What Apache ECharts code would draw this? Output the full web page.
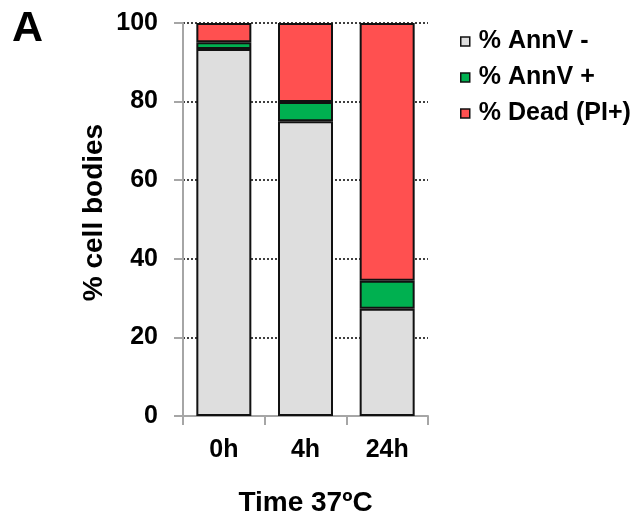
<!DOCTYPE html>
<html>
<head>
<meta charset="utf-8">
<script src="https://cdn.jsdelivr.net/npm/echarts@6/dist/echarts.min.js"></script>
<style>
html,body{margin:0;padding:0;background:#fff;}
#chart{width:636px;height:517px;}
</style>
</head>
<body>
<div id="chart"></div>
<script>
var categories = ['0h', '4h', '24h'];
var annvNeg = [93.4, 75.0, 27.3];
var annvPos = [1.7, 4.9, 7.1];
var deadPI = [4.9, 20.1, 65.6];
var seriesNames = ['% AnnV -', '% AnnV +', '% Dead (PI+)'];
var yTicks = [0, 20, 40, 60, 80, 100];

var FONT = "'Liberation Sans', Arial, sans-serif";
var chart = echarts.init(document.getElementById('chart'), null, {renderer: 'canvas'});
var colors = ['#dedede', '#00b050', '#ff5050'];
var dataSets = [annvNeg, annvPos, deadPI];

var series = seriesNames.map(function (n, i) {
  return {
    name: n,
    type: 'bar',
    stack: 'total',
    barWidth: 55,
    data: dataSets[i],
    itemStyle: {color: colors[i], borderColor: '#111', borderWidth: 2},
    emphasis: {disabled: true}
  };
});

chart.setOption({
  animation: false,
  textStyle: {fontFamily: FONT},
  graphic: [{
    type: 'text',
    left: 12,
    top: 8,
    style: {text: 'A', font: 'bold 43px ' + FONT, fill: '#000'}
  }],
  legend: {
    orient: 'vertical',
    left: 455,
    top: 24,
    itemWidth: 9,
    itemHeight: 9,
    itemGap: 11,
    icon: 'rect',
    data: seriesNames,
    itemStyle: {borderWidth: 1.5},
    textStyle: {fontSize: 25, fontWeight: 'bold', color: '#000', fontFamily: FONT, lineHeight: 25, padding: [0, 0, 0, 4]}
  },
  grid: {left: 183, right: 208, top: 23, bottom: 101, containLabel: false, outerBoundsMode: 'none'},
  xAxis: {
    type: 'category',
    data: categories,
    axisLine: {lineStyle: {color: '#a6a6a6', width: 2}},
    axisTick: {show: true, length: 9, lineStyle: {color: '#a6a6a6', width: 2}},
    axisLabel: {fontSize: 25, fontWeight: 'bold', color: '#000', margin: 22, fontFamily: FONT},
    name: 'Time 37ºC',
    nameLocation: 'middle',
    nameGap: 73,
    nameTextStyle: {fontSize: 28, fontWeight: 'bold', color: '#000', fontFamily: FONT}
  },
  yAxis: {
    type: 'value',
    min: 0,
    max: 100,
    interval: 20,
    axisLine: {show: true, lineStyle: {color: '#a6a6a6', width: 2}},
    axisTick: {show: true, length: 9, lineStyle: {color: '#a6a6a6', width: 2}},
    axisLabel: {fontSize: 25, fontWeight: 'bold', color: '#000', margin: 25, fontFamily: FONT,
      formatter: function (v) { return yTicks.indexOf(v) >= 0 ? String(v) : ''; }},
    splitLine: {show: true, lineStyle: {color: '#000', type: [2, 2], width: 1.5}},
    name: '% cell bodies',
    nameLocation: 'middle',
    nameGap: 75,
    nameTextStyle: {fontSize: 28, fontWeight: 'bold', color: '#000', fontFamily: FONT, padding: [0, 0, 0, 14]}
  },
  series: series
});
</script>
</body>
</html>
